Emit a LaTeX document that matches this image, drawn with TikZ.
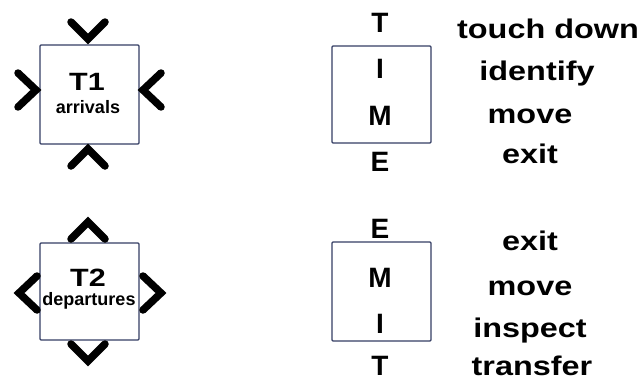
\documentclass[tikz,border=0pt]{standalone}
\usepackage{graphicx}
\usepackage{fontspec}
\setmainfont{Liberation Sans}
\definecolor{boxcol}{RGB}{52,62,100}
\newcommand{\fs}[1]{\fontsize{#1}{#1}\selectfont\bfseries}
\begin{document}
\begin{tikzpicture}[x=1pt,y=-1pt,
  framebox/.style={draw=boxcol, line width=1.3pt, rounded corners=1pt},
  chev/.style={line width=7.5pt, line cap=round, line join=miter},
  big/.style={anchor=base, inner sep=0, font=\fs{25}},
  small/.style={anchor=base, inner sep=0, font=\fs{18}},
  letter/.style={anchor=base, inner sep=0, font=\fs{28}},
  word/.style={anchor=base, inner sep=0, font=\fs{27}}]
\useasboundingbox (0,0) rectangle (643,380);
% T1
\draw[framebox] (40,45) rectangle (139,144);
\node[big] (t1) at (87,90) {\scalebox{1.22}[1]{T1}};
\node[small] (arr) at (88,113) {arrivals};
\draw[chev] (71,22) -- (88,39) -- (105,22);
\draw[chev] (71,166) -- (88,149) -- (105,166);
\draw[chev] (18,73) -- (36,90) -- (18,107);
\draw[chev] (161,73) -- (143,90) -- (161,107);
% T2
\draw[framebox] (40,243) rectangle (139,340);
\node[big] (t2) at (88,286) {\scalebox{1.22}[1]{T2}};
\node[small] (dep) at (89,305) {departures};
\draw[chev] (71,239) -- (88,222) -- (105,239);
\draw[chev] (71,344) -- (88,361) -- (105,344);
\draw[chev] (37,276) -- (19,293) -- (37,310);
\draw[chev] (143,276) -- (161,293) -- (143,310);
% TIME
\draw[framebox] (332,46) rectangle (431,143);
\node[letter] (a1) at (380,32) {T};
\node[letter] (a2) at (380,78) {I};
\node[letter] (a3) at (380,125) {M};
\node[letter] (a4) at (380,171) {E};
\node[word] (w1) at (548,38) {\scalebox{1.2}[1]{touch down}};
\node[word] (w2) at (537,80) {\scalebox{1.2}[1]{identify}};
\node[word] (w3) at (530,123) {\scalebox{1.2}[1]{move}};
\node[word] (w4) at (530,163) {\scalebox{1.2}[1]{exit}};
% EMIT
\draw[framebox] (332,242) rectangle (431,341);
\node[letter] (b1) at (380,238) {E};
\node[letter] (b2) at (380,287) {M};
\node[letter] (b3) at (380,333) {I};
\node[letter] (b4) at (380,375) {T};
\node[word] (v1) at (530,250) {\scalebox{1.2}[1]{exit}};
\node[word] (v2) at (530,295) {\scalebox{1.2}[1]{move}};
\node[word] (v3) at (530,337) {\scalebox{1.2}[1]{inspect}};
\node[word] (v4) at (532,375) {\scalebox{1.2}[1]{transfer}};
\end{tikzpicture}
\end{document}
